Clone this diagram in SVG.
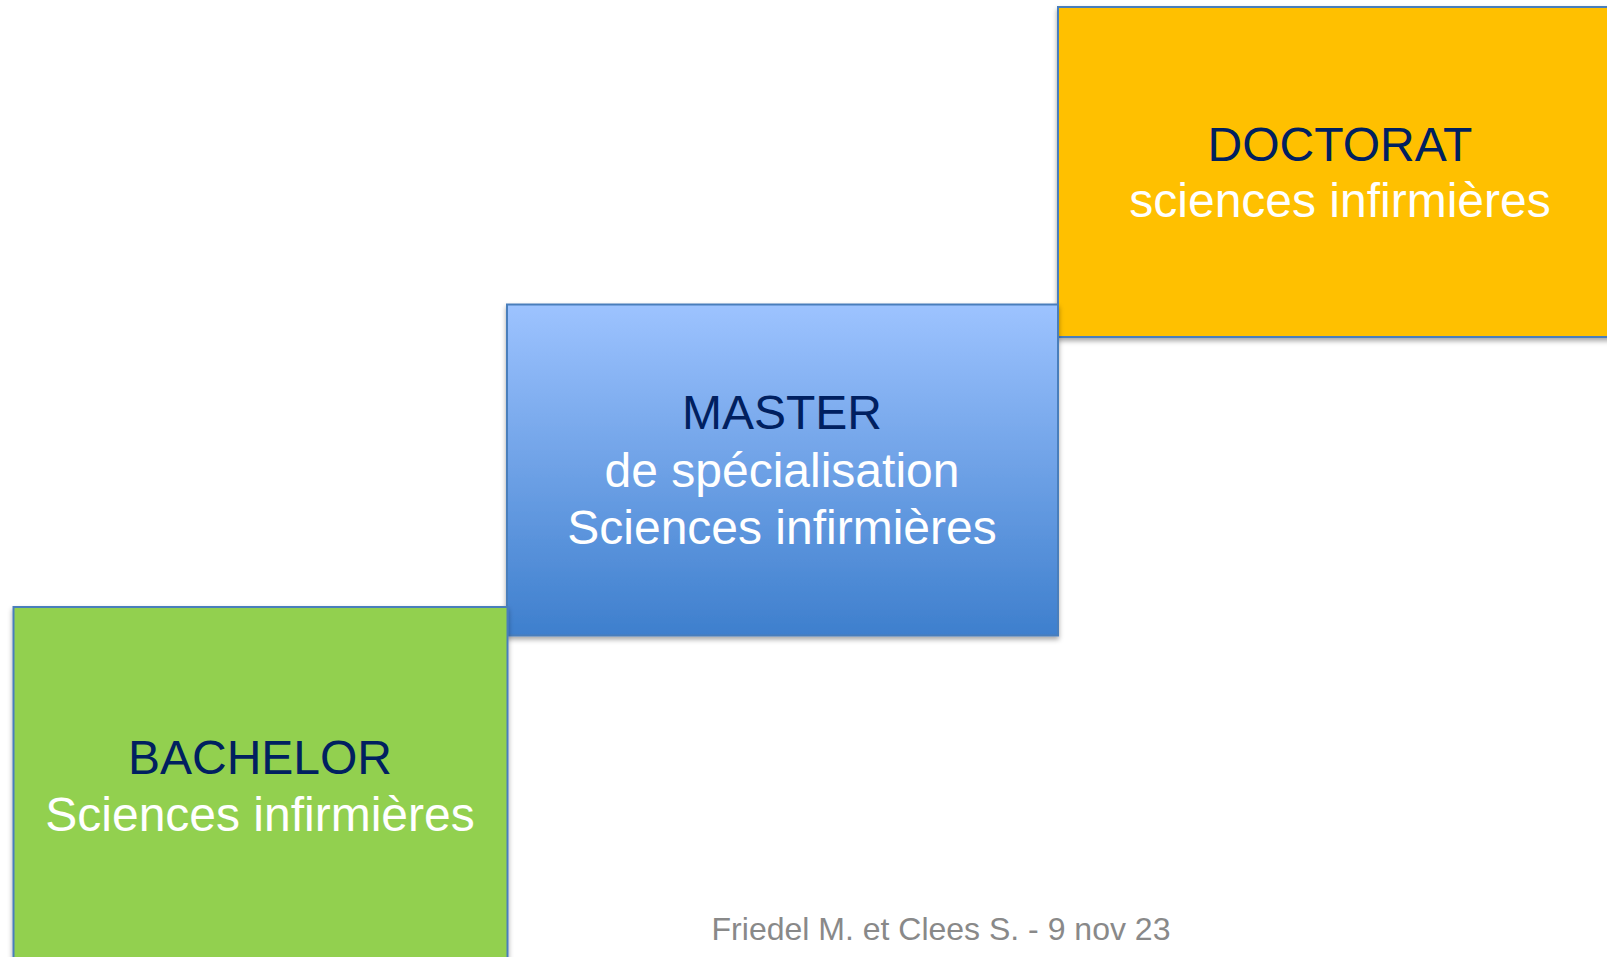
<svg xmlns="http://www.w3.org/2000/svg" width="1607" height="957" viewBox="0 0 1607 957">
<style>
.box{stroke:#4a7ebb;stroke-width:2;filter:url(#sh)}
.t{font-family:"Liberation Sans",Arial,sans-serif;font-size:48px;text-anchor:middle}
.h{fill:#002060}
.s{fill:#ffffff}
.f{font-family:"Liberation Sans",Arial,sans-serif;font-size:32px;fill:#898989;text-anchor:middle}
</style>
<defs>
<linearGradient id="bg" x1="0" y1="0" x2="0" y2="1">
<stop offset="0" stop-color="#9dc3ff"/>
<stop offset="1" stop-color="#3e7fcd"/>
</linearGradient>
<filter id="sh" x="-5%" y="-5%" width="110%" height="115%">
<feDropShadow dx="0" dy="3" stdDeviation="2.5" flood-color="#000" flood-opacity="0.35"/>
</filter>
</defs>
<rect width="1607" height="957" fill="#ffffff"/>
<g id="connectors"></g>
<g id="doctorat">
<rect class="box" x="1058" y="7" width="566" height="330" fill="#ffc000"/>
<text class="t h" x="1340" y="161">DOCTORAT</text>
<text class="t s" x="1340" y="217">sciences infirmières</text>
</g>
<g id="master">
<rect class="box" x="507" y="304.5" width="551" height="331" fill="url(#bg)"/>
<text class="t h" x="782" y="429">MASTER</text>
<text class="t s" x="782" y="487">de spécialisation</text>
<text class="t s" x="782" y="544">Sciences infirmières</text>
</g>
<g id="bachelor">
<rect class="box" x="13.5" y="607" width="494" height="380" fill="#92d050"/>
<text class="t h" x="260" y="774">BACHELOR</text>
<text class="t s" x="260" y="831">Sciences infirmières</text>
</g>
<g id="footer">
<text class="f" x="941" y="940">Friedel M. et Clees S. - 9 nov 23</text>
</g>
</svg>
